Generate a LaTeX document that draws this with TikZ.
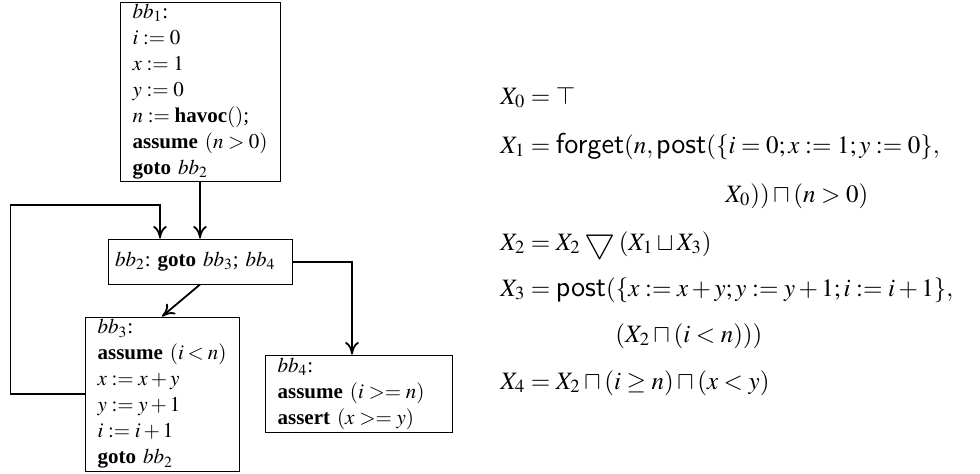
\documentclass[tikz,border=0pt]{standalone}
\usepackage{amsmath, amssymb}
\usepackage{graphicx}
\usepackage{mathptmx}
\usepackage[no-math]{fontspec}
\setmainfont{Liberation Serif}
\usepackage{tikz}
\usetikzlibrary{arrows.meta, positioning, calc}

\newcommand{\opname}[1]{\text{\fontsize{14.4}{16}\sffamily #1}}
\newcommand{\widen}{\mathbin{\vcenter{\hbox{\scalebox{1.4}{$\bigtriangledown$}}}}}

\begin{document}
\begin{tikzpicture}[
  x=0.5pt, y=-0.5pt,
  block/.style={
    rectangle,
    draw,
    line width=0.5pt,
    align=left,
    text width=#1,
    inner xsep=6.3pt,
    inner ysep=0pt,
    font=\fontsize{10.5}{13}\selectfont\frenchspacing
  },
  eqline/.style={
    anchor=base west,
    inner sep=0pt,
    font=\fontsize{12.5}{15}\selectfont
  },
  arrow/.style={
    -{To[length=2.2mm, width=2.4mm]},
    line width=0.9pt
  }
]
\useasboundingbox (0,0) rectangle (980,473);

% =========================================================
% Control flow graph
% =========================================================
\node[block=67.4pt, minimum height=89.5pt] (bb1) at (200, 91.5)
{$bb_1$:\\$i := 0$\\$x := 1$\\$y := 0$\\$n := \textbf{havoc}()$;\\\textbf{assume} $(n > 0)$\\\textbf{goto} $bb_2$};

\node[block=85pt, inner xsep=3.5pt, minimum height=22.5pt] (bb2) at (200, 261.5)
{$bb_2$: \textbf{goto} $bb_3$; $bb_4$};

\node[block=64.4pt, minimum height=77pt] (bb3) at (162, 394)
{$bb_3$:\\\textbf{assume} $(i < n)$\\$x := x + y$\\$y := y + 1$\\$i := i + 1$\\\textbf{goto} $bb_2$};

\node[block=80.9pt, minimum height=38.5pt] (bb4) at (358.5, 393.5)
{$bb_4$:\\\textbf{assume} $(i >= n)$\\\textbf{assert} $(x >= y)$};

\coordinate (loopin) at (160, 205);

\draw[arrow] (bb1) -- (bb2);
\draw[arrow] (bb2.south) -- (bb3.north);
\draw[arrow] ([yshift=-0.25pt]bb2.east) -| ([xshift=-3.25pt]bb4.north);
\draw[arrow] (bb3.west) -- ++(-74,0) |- (loopin) -- (loopin |- bb2.north);

% =========================================================
% Equations
% =========================================================
\node[eqline] (eq0)  at (500, 104) {$X_0 = \top$};
\node[eqline] (eq1)  at (500, 153) {$X_1 = \opname{forget}(n, \opname{post}(\{i = 0; x := 1; y := 0\},$};
\node[eqline] (eq1b) at (725, 202) {$X_0)) \sqcap (n > 0)$};
\node[eqline] (eq2)  at (500, 250) {$X_2 = X_2 \widen (X_1 \sqcup X_3)$};
\node[eqline] (eq3)  at (500, 296) {$X_3 = \opname{post}(\{x := x + y; y := y + 1; i := i + 1\},$};
\node[eqline] (eq3b) at (615, 342) {$(X_2 \sqcap (i < n)))$};
\node[eqline] (eq4)  at (500, 389) {$X_4 = X_2 \sqcap (i \geq n) \sqcap (x < y)$};

\end{tikzpicture}
\end{document}
